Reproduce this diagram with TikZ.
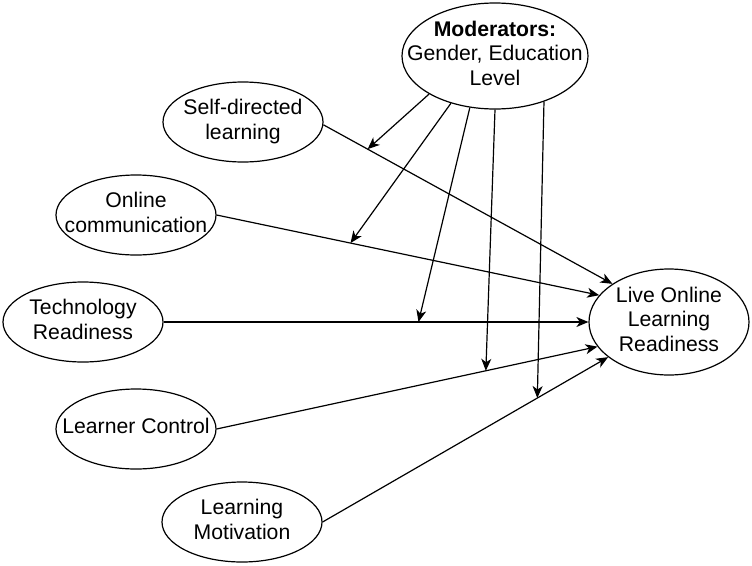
\documentclass[tikz,border=0pt]{standalone}
\usepackage{fontspec}
\setmainfont{Liberation Sans}
\usetikzlibrary{shapes.geometric,arrows.meta}
\newcommand{\ctxt}[1]{\makebox[0pt]{\begin{tabular}{@{}c@{}}#1\end{tabular}}}
\begin{document}
\begin{tikzpicture}[x=1pt,y=-1pt,
  ell/.style={draw,ellipse,line width=1.2pt,inner sep=0pt,minimum width=160pt,minimum height=80pt,
    font=\fontsize{21.2}{24.5}\selectfont},
  arr/.style={line width=1.2pt,-{Stealth[length=12pt,width=10pt,inset=3.5pt]}}]
\fill[white] (0,0) rectangle (752,565);
\useasboundingbox (0,0) rectangle (752,565);
\node[ell,minimum width=186pt,minimum height=106pt] (mod) at (495,56) {\ctxt{\textbf{Moderators:}\\Gender, Education\\Level}};
\node[ell] (sdl) at (243,122) {\ctxt{Self-directed\\learning}};
\node[ell] (oc) at (136,215) {\ctxt{Online\\communication}};
\node[ell] (tr) at (83,322) {\ctxt{Technology\\Readiness}};
\node[ell] (lc) at (136,429) {\ctxt{Learner Control}};
\node[ell] (lm) at (242,522) {\ctxt{Learning\\Motivation}};
\node[ell,minimum height=106pt] (lolr) at (669,322) {\ctxt{Live Online\\Learning\\Readiness}};

\draw[arr] (sdl.-2) -- coordinate[pos=0.153] (t1) (lolr.146);
\draw[arr] (oc.east) -- coordinate[pos=0.35] (t2) (lolr.159);
\draw[arr] (tr.east) -- coordinate[pos=0.60] (t3) (lolr.west);
\draw[arr] (lc.east) -- coordinate[pos=0.707] (t4) (lolr.199);
\draw[arr] (lm.east) -- coordinate[pos=0.752] (t5) (lolr.210.5);

\draw[arr] (mod.210.6) -- (t1);
\draw[arr] (mod.227) -- (t2);
\draw[arr] (mod.244) -- (t3);
\draw[arr] (mod.270) -- (t4);
\draw[arr] (mod.317) -- (t5);
\end{tikzpicture}
\end{document}
